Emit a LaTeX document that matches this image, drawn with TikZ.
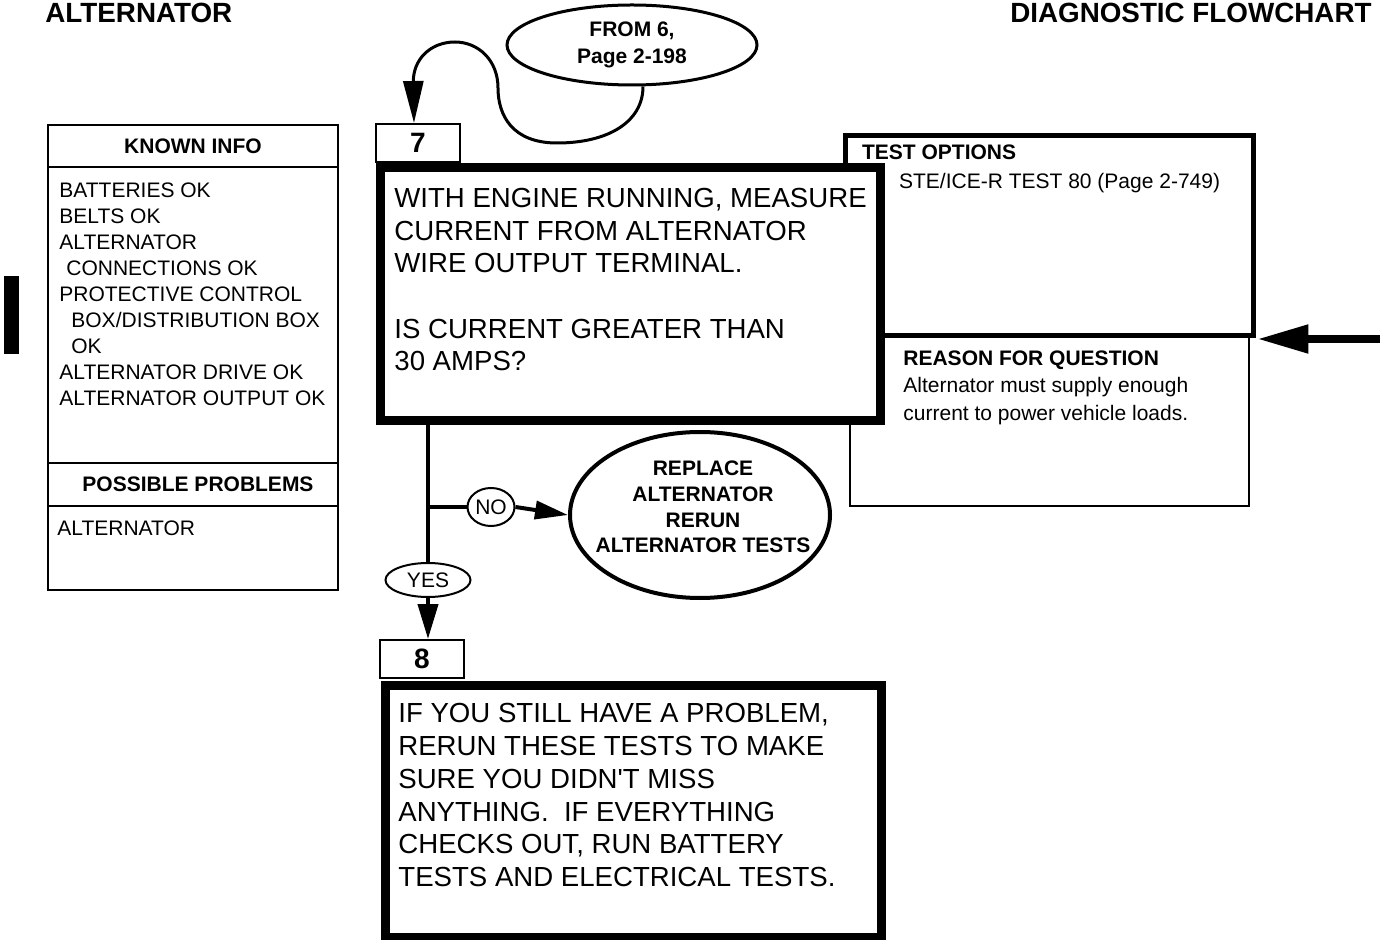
\documentclass[tikz,border=0pt]{standalone}
\usepackage{fontspec}
\setmainfont{Liberation Sans}
\usetikzlibrary{positioning,shapes.geometric,arrows.meta}

\tikzset{
  bigbox/.style={draw, line width=4.5pt, fill=white, outer sep=0pt, inner sep=0pt},
  thinbox/.style={draw, line width=1pt, fill=white, outer sep=0pt, inner sep=0pt, minimum width=145pt},
  headbox/.style={thinbox, font=\fontsize{10.5}{13}\selectfont\bfseries},
  numbox/.style={draw, line width=1pt, fill=white, inner sep=0pt, minimum width=42pt, minimum height=19pt, font=\fontsize{14}{16}\selectfont\bfseries},
  bodytext/.style={anchor=north west, inner sep=0pt, align=left, font=\fontsize{13.8}{16.3}\selectfont},
  smalltext/.style={anchor=north west, inner sep=0pt, align=left, font=\fontsize{10.5}{13}\selectfont},
  bubble/.style={draw, ellipse, inner sep=0pt},
  flow/.style={line width=2pt},
}

\begin{document}
\begin{tikzpicture}[x=0.5pt, y=-0.5pt]
    \useasboundingbox (0,0) rectangle (1380,940);

    % Page headings and side bar
    \node[anchor=base west, inner sep=0pt, font=\fontsize{13.9}{16}\selectfont\bfseries] (title) at (45,23) {ALTERNATOR};
    \node[anchor=base east, inner sep=0pt, font=\fontsize{13.9}{16}\selectfont\bfseries] (chart) at (1372,23) {DIAGNOSTIC FLOWCHART};
    \fill (4,276) rectangle (19,354);

    % Known info / possible problems column
    \node[headbox, minimum height=21pt, anchor=north west] (known) at (48,125) {KNOWN INFO};
    \node[thinbox, minimum height=148pt, below=0pt of known] (kbody) {};
    \node[headbox, minimum height=21.5pt, below=0pt of kbody] (possible) {\hspace*{5pt}POSSIBLE PROBLEMS};
    \node[thinbox, minimum height=42pt, below=0pt of possible] (pbody) {};
    \node[smalltext] at ([shift={(11,15)}]kbody.north west) {BATTERIES OK\\BELTS OK\\ALTERNATOR\\\hspace*{3.5pt}CONNECTIONS OK\\PROTECTIVE CONTROL\\\hspace*{6pt}BOX/DISTRIBUTION BOX\\\hspace*{6pt}OK\\ALTERNATOR DRIVE OK\\ALTERNATOR OUTPUT OK};
    \node[smalltext] at ([shift={(9,14)}]pbody.north west) {ALTERNATOR};

    % Test options and reason boxes (behind step 7)
    \node[thinbox, minimum width=199.5pt, minimum height=85pt] (reason) at (1049.5,421) {};
    \node[draw, line width=2.5pt, fill=white, outer sep=0pt, minimum width=203.8pt, minimum height=100pt] (topt) at (1049.5,236) {};
    \node[smalltext, font=\fontsize{10.5}{13}\selectfont\bfseries] at ([shift={(16,8)}]topt.north west) {TEST OPTIONS};
    \node[smalltext] at ([shift={(53,37)}]topt.north west) {STE/ICE-R TEST 80 (Page 2-749)};
    \node[smalltext, font=\fontsize{10.5}{13.75}\selectfont] at ([shift={(53,14)}]reason.north west) {{\bfseries REASON FOR QUESTION}\\Alternator must supply enough\\current to power vehicle loads.};

    % Step 7
    \node[bigbox, minimum width=250pt, minimum height=126.5pt] (q7) at (630.5,294) {};
    \node[numbox, anchor=south west] (n7) at (375,163) {7};
    \node[bodytext] at ([shift={(13.5,20.5)}]q7.north west) {WITH ENGINE RUNNING, MEASURE\\CURRENT FROM ALTERNATOR\\WIRE OUTPUT TERMINAL.\\[16.3pt]IS CURRENT GREATER THAN\\30 AMPS?};

    % Step 8
    \node[bigbox, minimum width=248pt, minimum height=126pt] (q8) at (633.5,811) {};
    \node[numbox, anchor=south west] (n8) at (379,679) {8};
    \node[bodytext, font=\fontsize{13.8}{16.4}\selectfont] at ([shift={(12.5,18)}]q8.north west) {IF YOU STILL HAVE A PROBLEM,\\RERUN THESE TESTS TO MAKE\\SURE YOU DIDN\textquotesingle T MISS\\ANYTHING.\ \ IF EVERYTHING\\CHECKS OUT, RUN BATTERY\\TESTS AND ELECTRICAL TESTS.};

    % Entry from step 6
    \node[bubble, line width=1.5pt, minimum width=125pt, minimum height=40pt, align=center, font=\fontsize{10.5}{13.5}\selectfont\bfseries] (from) at (632,45) {FROM 6,\\Page 2-198};
    \draw[line width=1.5pt, -{Triangle[length=21pt,width=10pt]}]
        ([xshift=5.5pt]from.south) .. controls (643,122) and (608,143) .. (557,143)
        .. controls (512,143) and (498,115) .. (498,88)
        .. controls (498,60) and (478,42) .. (455,42)
        .. controls (430,42) and (413,60) .. ([xshift=-2pt]n7.north);

    % Answers
    \node[bubble, line width=1pt, minimum width=23.5pt, minimum height=19pt, font=\fontsize{10.5}{13}\selectfont] (ans-no) at (491,507) {NO};
    \node[bubble, line width=1pt, minimum width=42.5pt, minimum height=17pt, font=\fontsize{10.5}{13}\selectfont] (ans-yes) at (428,580) {YES};
    \node[bubble, line width=2pt, minimum width=130pt, minimum height=83pt] (repl) at (700,515) {};
    \node[inner sep=0pt, align=center, font=\fontsize{10.5}{12.85}\selectfont\bfseries] (repltext) at (703,507) {REPLACE\\ALTERNATOR\\RERUN\\ALTERNATOR TESTS};

    \draw[flow] (q7.south -| ans-yes.north) -- (ans-yes.north);
    \draw[flow] (ans-no.west -| ans-yes.north) -- (ans-no.west);
    \draw[flow, -{Triangle[length=16.5pt,width=9pt]}] (ans-no.east) -- (repl.west);
    \draw[flow, -{Triangle[length=17.5pt,width=10pt]}] (ans-yes.south) -- (ans-yes.south |- n8.north);

    % Incoming arrow on the right
    \coordinate (feed) at (1380,339);
    \draw[line width=4pt, -{Triangle[length=25.5pt,width=13.5pt]}] (feed) -- ([xshift=2pt]topt.east |- feed);
\end{tikzpicture}
\end{document}
